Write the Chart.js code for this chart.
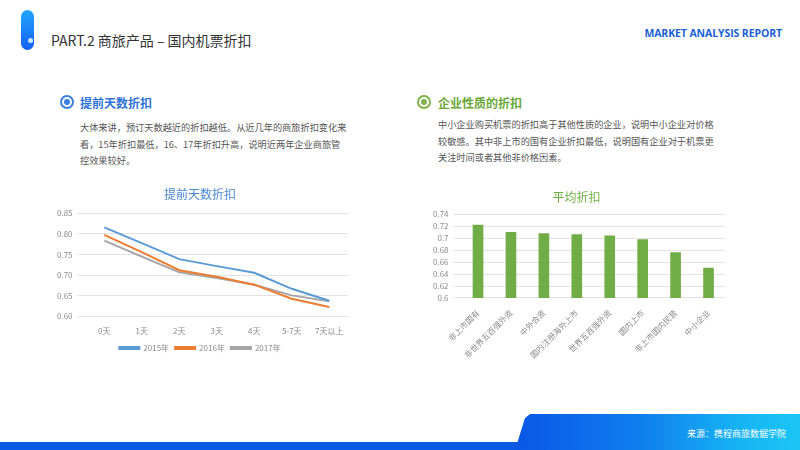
<!DOCTYPE html>
<html>
<head>
<meta charset="utf-8">
<script src="https://cdn.jsdelivr.net/npm/chart.js@4.4.1/dist/chart.umd.min.js"></script>
<style>
  html, body { margin: 0; padding: 0; background: #fff; }
  body { width: 800px; height: 450px; position: relative; overflow: hidden;
         font-family: "Noto Sans CJK SC", "Noto Sans", sans-serif; }
  .abs { position: absolute; }
  .pill { left: 21px; top: 10px; width: 13px; height: 40px; border-radius: 7px;
          background: linear-gradient(180deg, #22a6ff 0%, #1560f0 100%); }
  .pill-dot { left: 28px; top: 38px; width: 5px; height: 5px; border-radius: 50%; background: #cfe6ff; }
  .page-title { left: 51px; top: 30px; font-size: 14px; color: #333; white-space: nowrap; }
  .report { right: 18px; top: 26px; font-size: 10.5px; font-weight: bold; color: #1a5fd6;
            font-family: "Open Sans", "Liberation Sans", sans-serif; letter-spacing: -0.1px; }
  .sec-icon { width: 10px; height: 10px; border-radius: 50%; border: 2px solid; }
  .sec-icon::after { content: ""; position: absolute; left: 2px; top: 2px; width: 6px; height: 6px; border-radius: 50%; background: currentColor; }
  .sec-title { font-size: 12px; font-weight: bold; white-space: nowrap; }
  .para { font-size: 9.2px; line-height: 16.7px; color: #555; white-space: nowrap; }
  .band { left: 0; top: 442px; width: 800px; height: 8px; background: #0a5ae6; }
  .band-hi { left: 0; top: 414px; width: 800px; height: 36px;
             background: linear-gradient(90deg, #0a52e4 0%, #0a56e6 64%, #0f7eee 80%, #16b2f4 92%, #1ac6f6 100%);
             clip-path: polygon(515px 36px, 525px 4px, 530px 0, 800px 0, 800px 36px); }
  .source { right: 14px; top: 427px; font-size: 9px; color: #fff; }
  canvas { position: absolute; }
</style>
</head>
<body>
<div class="abs pill"></div>
<div class="abs pill-dot"></div>
<div class="abs page-title">PART.2 商旅产品 – 国内机票折扣</div>
<div class="abs report">MARKET ANALYSIS REPORT</div>

<div class="abs sec-icon" style="left:60px;top:95px;color:#3d7fe0;border-color:#3d7fe0;"></div>
<div class="abs sec-title" style="left:80px;top:94px;color:#2f73d9;">提前天数折扣</div>
<div class="abs para" style="left:80px;top:119px;">大体来讲，预订天数越近的折扣越低。从近几年的商旅折扣变化来<br>看，15年折扣最低，16、17年折扣升高，说明近两年企业商旅管<br>控效果较好。</div>

<div class="abs sec-icon" style="left:417px;top:95px;color:#7fb24a;border-color:#7fb24a;"></div>
<div class="abs sec-title" style="left:438px;top:94px;color:#6aa836;">企业性质的折扣</div>
<div class="abs para" style="left:438px;top:116px;">中小企业购买机票的折扣高于其他性质的企业，说明中小企业对价格<br>较敏感。其中非上市的国有企业折扣最低，说明国有企业对于机票更<br>关注时间或者其他非价格因素。</div>

<canvas id="lineChart" style="left:52px;top:185px;" width="302" height="177"></canvas>
<canvas id="barChart" style="left:428px;top:188px;" width="303" height="174"></canvas>

<div class="abs band"></div>
<div class="abs band-hi"></div>
<div class="abs source">来源：携程商旅数据学院</div>

<script>
const dayLabels = ['0天', '1天', '2天', '3天', '4天', '5-7天', '7天以上'];
const discount2015 = [0.816, 0.778, 0.739, 0.722, 0.706, 0.667, 0.638];
const discount2016 = [0.798, 0.756, 0.712, 0.696, 0.677, 0.643, 0.623];
const discount2017 = [0.784, 0.745, 0.707, 0.693, 0.677, 0.651, 0.637];
const lineTicks = { min: 0.6, max: 0.85, step: 0.05 };

const companyTypes = ['非上市国有', '非世界五百强外资', '中外合资', '国内注册海外上市', '世界五百强外资', '国内上市', '非上市国内民营', '中小企业'];
const avgDiscount = [0.722, 0.710, 0.708, 0.706, 0.704, 0.698, 0.676, 0.650];
const barTicks = { min: 0.6, max: 0.74, step: 0.02 };

const FONT = '"Noto Sans CJK SC", "Noto Sans", sans-serif';
const tickColor = '#8a8a8a';
const gridColor = '#e3e3e3';

function lineSet(label, data, color) {
  return {
    label: label,
    data: data,
    borderColor: color,
    backgroundColor: color,
    borderWidth: 2,
    pointRadius: 0,
    tension: 0,
    fill: false
  };
}

new Chart(document.getElementById('lineChart').getContext('2d'), {
  type: 'line',
  data: {
    labels: dayLabels,
    datasets: [
      lineSet('2015年', discount2015, '#5b9bd5'),
      lineSet('2016年', discount2016, '#ed7d31'),
      lineSet('2017年', discount2017, '#a5a5a5')
    ]
  },
  options: {
    responsive: false,
    animation: false,
    layout: { padding: { left: 0, right: 6, top: 0, bottom: 0 } },
    plugins: {
      title: {
        display: true,
        text: '提前天数折扣',
        color: '#4a88d6',
        font: { size: 12, family: FONT, weight: 'normal' },
        padding: { top: 2, bottom: 12 }
      },
      legend: {
        display: true,
        position: 'bottom',
        labels: {
          boxWidth: 20,
          boxHeight: 2,
          padding: 6,
          color: tickColor,
          font: { size: 8, family: FONT }
        }
      },
      tooltip: { enabled: false }
    },
    scales: {
      x: {
        offset: true,
        grid: { display: false },
        border: { display: false },
        ticks: { color: tickColor, padding: 2, font: { size: 8, family: FONT }, maxRotation: 0 }
      },
      y: {
        min: lineTicks.min,
        max: lineTicks.max,
        border: { display: false },
        grid: { color: gridColor },
        ticks: {
          stepSize: lineTicks.step,
          color: tickColor,
          padding: 5,
          font: { size: 8, family: FONT },
          callback: function(value) { return value.toFixed(2); }
        }
      }
    }
  }
});

new Chart(document.getElementById('barChart').getContext('2d'), {
  type: 'bar',
  data: {
    labels: companyTypes,
    datasets: [{
      label: '平均折扣',
      data: avgDiscount,
      backgroundColor: '#70ad47',
      barThickness: 10
    }]
  },
  options: {
    responsive: false,
    animation: false,
    layout: { padding: { left: 0, right: 6, top: 0, bottom: 0 } },
    plugins: {
      title: {
        display: true,
        text: '平均折扣',
        color: '#6cae42',
        font: { size: 12, family: FONT, weight: 'normal' },
        padding: { top: 2, bottom: 10 }
      },
      legend: { display: false },
      tooltip: { enabled: false }
    },
    scales: {
      x: {
        grid: { display: false },
        border: { display: false },
        ticks: { color: tickColor, padding: 2, autoSkip: false, font: { size: 8, family: FONT }, minRotation: 45, maxRotation: 45 }
      },
      y: {
        min: barTicks.min,
        max: barTicks.max,
        border: { display: false },
        grid: { color: gridColor },
        ticks: {
          stepSize: barTicks.step,
          autoSkip: false,
          color: tickColor,
          padding: 5,
          font: { size: 8, family: FONT },
          callback: function(value) { return Math.round(value * 100) / 100; }
        }
      }
    }
  }
});
</script>
</body>
</html>
